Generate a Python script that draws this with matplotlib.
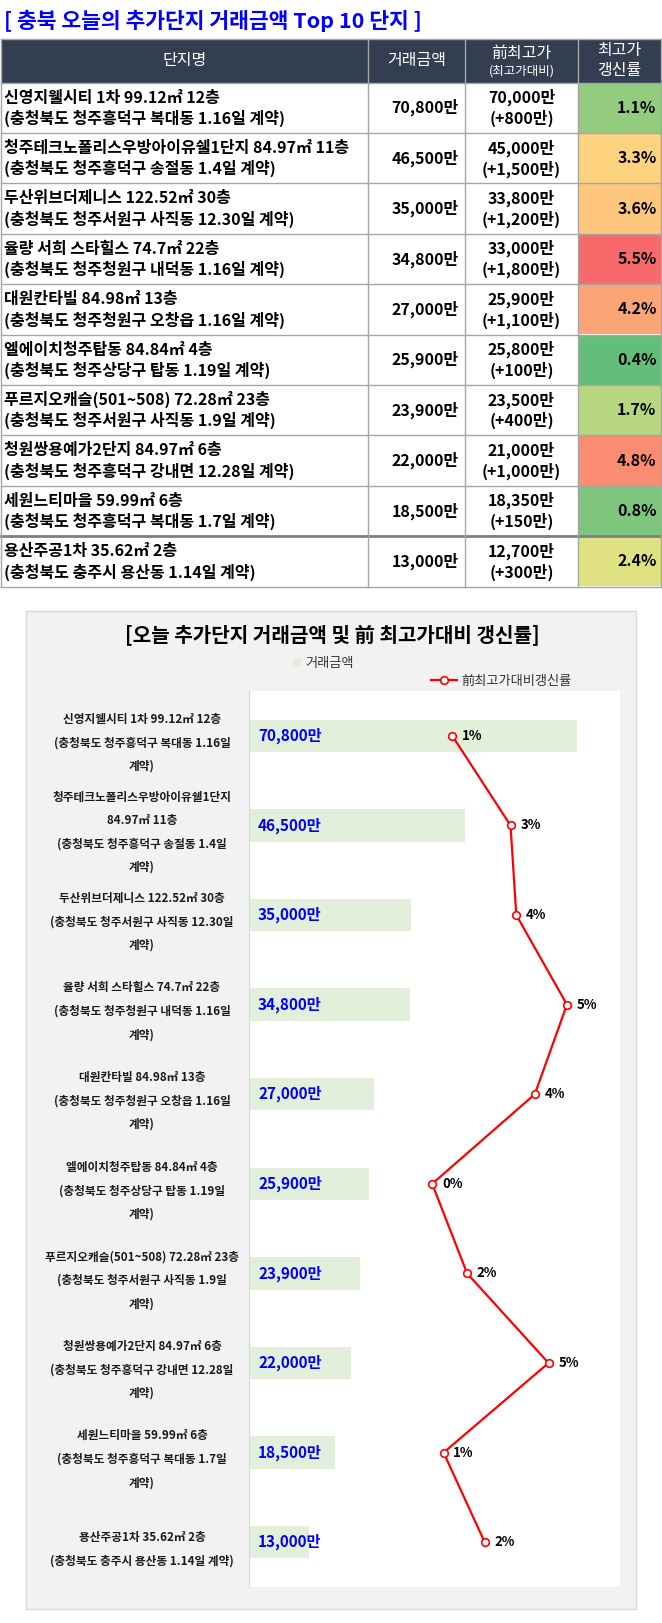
import numpy as np
import matplotlib.pyplot as plt
from matplotlib.colors import LinearSegmentedColormap, TwoSlopeNorm
from matplotlib.patches import Rectangle, Patch
from matplotlib.lines import Line2D

plt.rcParams['font.family'] = ['Noto Sans CJK KR', 'DejaVu Sans']

names = [
  "신영지웰시티 1차 99.12㎡ 12층",
  "청주테크노폴리스우방아이유쉘1단지 84.97㎡ 11층",
  "두산위브더제니스 122.52㎡ 30층",
  "율량 서희 스타힐스 74.7㎡ 22층",
  "대원칸타빌 84.98㎡ 13층",
  "엘에이치청주탑동 84.84㎡ 4층",
  "푸르지오캐슬(501~508) 72.28㎡ 23층",
  "청원쌍용예가2단지 84.97㎡ 6층",
  "세원느티마을 59.99㎡ 6층",
  "용산주공1차 35.62㎡ 2층",
]
addresses = [
  "(충청북도 청주흥덕구 복대동 1.16일 계약)",
  "(충청북도 청주흥덕구 송절동 1.4일 계약)",
  "(충청북도 청주서원구 사직동 12.30일 계약)",
  "(충청북도 청주청원구 내덕동 1.16일 계약)",
  "(충청북도 청주청원구 오창읍 1.16일 계약)",
  "(충청북도 청주상당구 탑동 1.19일 계약)",
  "(충청북도 청주서원구 사직동 1.9일 계약)",
  "(충청북도 청주흥덕구 강내면 12.28일 계약)",
  "(충청북도 청주흥덕구 복대동 1.7일 계약)",
  "(충청북도 충주시 용산동 1.14일 계약)",
]
amounts = [70800, 46500, 35000, 34800, 27000, 25900, 23900, 22000, 18500, 13000]
prev_highs = [70000, 45000, 33800, 33000, 25900, 25800, 23500, 21000, 18350, 12700]

chart_labels = [
  "신영지웰시티 1차 99.12㎡ 12층\n(충청북도 청주흥덕구 복대동 1.16일\n계약)",
  "청주테크노폴리스우방아이유쉘1단지\n84.97㎡ 11층\n(충청북도 청주흥덕구 송절동 1.4일\n계약)",
  "두산위브더제니스 122.52㎡ 30층\n(충청북도 청주서원구 사직동 12.30일\n계약)",
  "율량 서희 스타힐스 74.7㎡ 22층\n(충청북도 청주청원구 내덕동 1.16일\n계약)",
  "대원칸타빌 84.98㎡ 13층\n(충청북도 청주청원구 오창읍 1.16일\n계약)",
  "엘에이치청주탑동 84.84㎡ 4층\n(충청북도 청주상당구 탑동 1.19일\n계약)",
  "푸르지오캐슬(501~508) 72.28㎡ 23층\n(충청북도 청주서원구 사직동 1.9일\n계약)",
  "청원쌍용예가2단지 84.97㎡ 6층\n(충청북도 청주흥덕구 강내면 12.28일\n계약)",
  "세원느티마을 59.99㎡ 6층\n(충청북도 청주흥덕구 복대동 1.7일\n계약)",
  "용산주공1차 35.62㎡ 2층\n(충청북도 충주시 용산동 1.14일 계약)",
]

amounts_arr = np.array(amounts)
prev_arr = np.array(prev_highs)
diffs = amounts_arr - prev_arr
rates = diffs / prev_arr * 100

W, H = 662, 1623
fig = plt.figure(figsize=(W / 100, H / 100), dpi=100)
bg = fig.add_axes([0, 0, 1, 1])
bg.set_xlim(0, W)
bg.set_ylim(H, 0)
bg.axis('off')

# page title
bg.text(4, 21, "[ 충북 오늘의 추가단지 거래금액 Top 10 단지 ]", color='#0000FF',
        fontsize=15.5, fontweight='bold', ha='left', va='center')

# ---- table ----
cols = [0.5, 368, 465, 578, 660.5]
top = 39
hdr_h = 43.5
row_h = 50.4
grid = '#A6A6A6'
n = len(names)
bottom = top + hdr_h + n * row_h

scale = LinearSegmentedColormap.from_list('excel3', ['#63BE7B', '#FFEB84', '#F8696B'])
norm = TwoSlopeNorm(vmin=rates.min(), vcenter=np.median(rates), vmax=rates.max())

bg.add_patch(Rectangle((cols[0], top), cols[-1] - cols[0], hdr_h,
                       facecolor='#333F50', edgecolor='none'))
hdr_kw = dict(color='white', ha='center', va='center')
bg.text((cols[0] + cols[1]) / 2, top + hdr_h / 2, "단지명", fontsize=11.5, **hdr_kw)
bg.text((cols[1] + cols[2]) / 2, top + hdr_h / 2, "거래금액", fontsize=11.5, **hdr_kw)
bg.text((cols[2] + cols[3]) / 2, top + 14, "前최고가", fontsize=11.5, **hdr_kw)
bg.text((cols[2] + cols[3]) / 2, top + 32, "(최고가대비)", fontsize=9, **hdr_kw)
bg.text((cols[3] + cols[4]) / 2, top + 12, "최고가", fontsize=11.5, **hdr_kw)
bg.text((cols[3] + cols[4]) / 2, top + 32, "갱신률", fontsize=11.5, **hdr_kw)

cell_kw = dict(fontsize=11.5, fontweight='bold', color='black', va='center')
for i in range(n):
  y0 = top + hdr_h + i * row_h
  bg.add_patch(Rectangle((cols[3], y0), cols[4] - cols[3], row_h,
                         facecolor=scale(norm(rates[i])), edgecolor='none'))
  bg.text(4, y0 + 15, names[i], ha='left', **cell_kw)
  bg.text(4, y0 + 36, addresses[i], ha='left', **cell_kw)
  bg.text(cols[2] - 6, y0 + row_h / 2, f"{amounts[i]:,}만", ha='right', **cell_kw)
  bg.text((cols[2] + cols[3]) / 2, y0 + 15, f"{prev_highs[i]:,}만", ha='center', **cell_kw)
  bg.text((cols[2] + cols[3]) / 2, y0 + 36, f"(+{diffs[i]:,}만)", ha='center', **cell_kw)
  bg.text(cols[4] - 4, y0 + row_h / 2, f"{rates[i]:.1f}%", ha='right', **cell_kw)

for i in range(n + 1):
  yy = top + hdr_h + i * row_h
  lw = 2.0 if i == n - 1 else 1.0
  c = '#7F7F7F' if i == n - 1 else grid
  bg.plot([cols[0], cols[-1]], [yy, yy], color=c, lw=lw)
bg.plot([cols[0], cols[-1]], [top, top], color=grid, lw=1.0)
for x in cols:
  bg.plot([x, x], [top, bottom], color=grid, lw=1.0)

# ---- chart panel ----
bg.add_patch(Rectangle((26, 611), 610, 998, facecolor='#F2F2F2', edgecolor='#D9D9D9', lw=1))
bg.text(332, 636, "[오늘 추가단지 거래금액 및 前 최고가대비 갱신률]", fontsize=14.5,
        fontweight='bold', ha='center', va='center', color='black')

ax = fig.add_axes([249 / W, 1 - 1587 / H, 371 / W, 896 / H])
ax.set_facecolor('white')
ypos = np.arange(n)
ax.barh(ypos, amounts, height=0.36, color='#E2EFDA')
ax.set_xlim(0, 80000)
ax.set_ylim(n - 0.5, -0.5)
ax.set_xticks([])
ax.set_yticks(ypos)
ax.set_yticklabels(chart_labels, ha='center', fontsize=8.4, fontweight='bold',
                   linespacing=2.05, color='#1A1A1A')
ax.tick_params(axis='y', length=0, pad=77)
for s in ['top', 'right', 'bottom']:
  ax.spines[s].set_visible(False)
ax.spines['left'].set_color('#D9D9D9')

for v, yy in zip(amounts, ypos):
  ax.annotate(f"{v:,}만", xy=(0, yy), xytext=(6.5, 0), textcoords='offset points',
              ha='left', va='center', fontsize=11, fontweight='bold', color='#0000FF')

ax2 = ax.twiny()
ax2.plot(rates, ypos, color='#FF0000', lw=1.6, marker='o', ms=5.5,
         mfc='white', mec='#FF0000', mew=1.2)
ax2.set_xlim(-6.5, 7.45)
ax2.set_xticks([])
for s in ax2.spines.values():
  s.set_visible(False)
for r, yy in zip(rates, ypos):
  ax2.annotate(f"{r:.0f}%", xy=(r, yy), xytext=(7, 0), textcoords='offset points',
               ha='left', va='center', fontsize=9.5, fontweight='bold', color='black')

leg_kw = dict(loc='center left', bbox_transform=bg.transData, frameon=False, fontsize=9.5,
              borderpad=0, borderaxespad=0, handletextpad=0.3, labelcolor='#333333')
fig.legend(handles=[Patch(facecolor='#E2EFDA', label='거래금액')],
           bbox_to_anchor=(293, 663), handlelength=0.6, handleheight=0.6, **leg_kw)
fig.legend(handles=[Line2D([], [], color='#FF0000', lw=1.6, marker='o', ms=5.5, mfc='white',
                           mec='#FF0000', mew=1.2, label='前최고가대비갱신률')],
           bbox_to_anchor=(431, 681), handlelength=2.0, **leg_kw)

fig.savefig('out.png', dpi=100)
